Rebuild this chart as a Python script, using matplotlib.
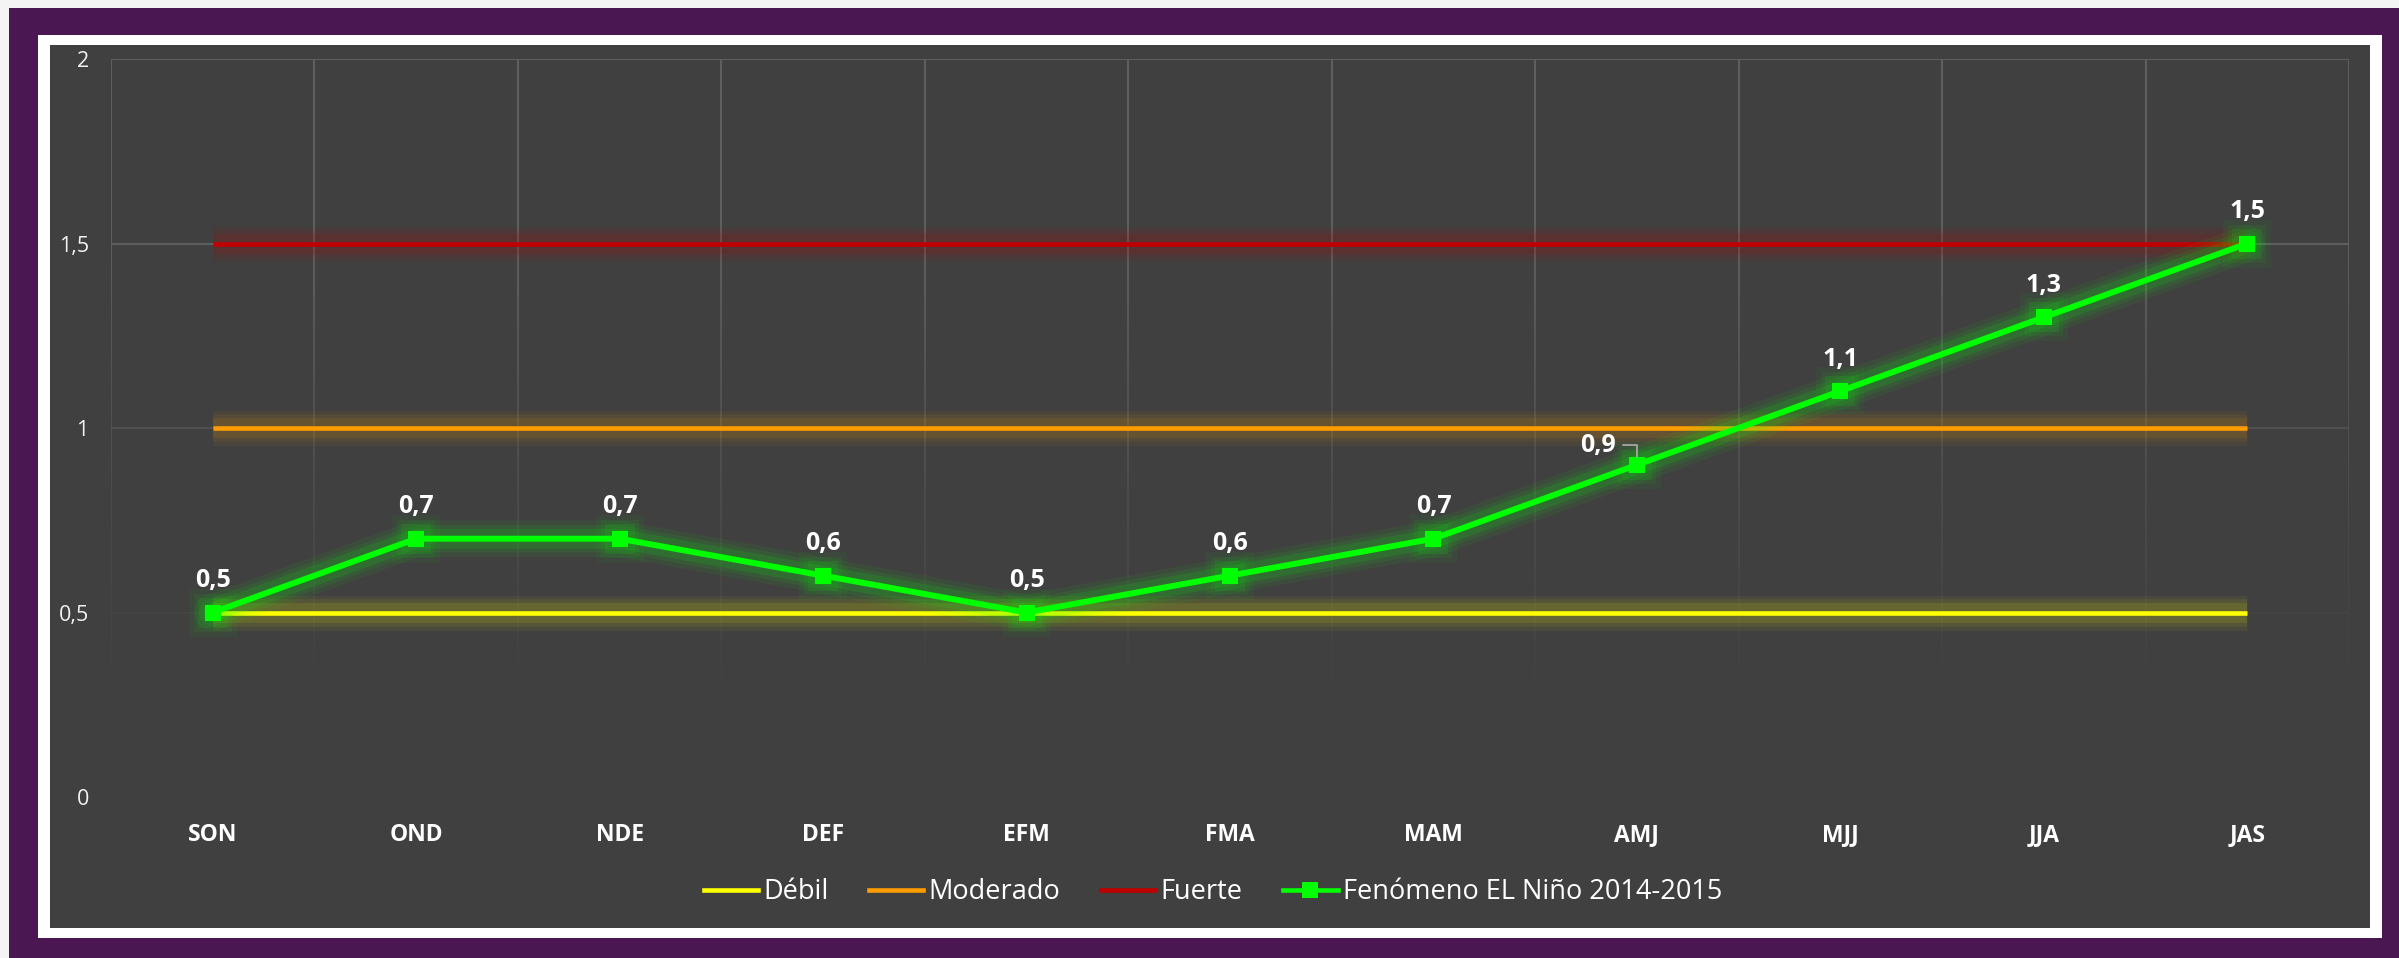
import matplotlib
matplotlib.use("Agg")
import matplotlib.pyplot as plt
from matplotlib.patches import Rectangle
from matplotlib.lines import Line2D
from matplotlib.collections import LineCollection
import numpy as np

categories = ["SON", "OND", "NDE", "DEF", "EFM", "FMA", "MAM", "AMJ", "MJJ", "JJA", "JAS"]
debil = [0.5] * 11
moderado = [1.0] * 11
fuerte = [1.5] * 11
nino = [0.5, 0.7, 0.7, 0.6, 0.5, 0.6, 0.7, 0.9, 1.1, 1.3, 1.5]
nino_labels = ["0,5", "0,7", "0,7", "0,6", "0,5", "0,6", "0,7", "0,9", "1,1", "1,3", "1,5"]
y_ticks = [0, 0.5, 1, 1.5, 2]
y_tick_labels = ["0", "0,5", "1", "1,5", "2"]
series_names = ["Débil", "Moderado", "Fuerte", "Fenómeno EL Niño 2014-2015"]

plt.rcParams['font.family'] = ['Open Sans', 'DejaVu Sans']

W, H = 2399, 958
fig = plt.figure(figsize=(W / 100, H / 100), dpi=100)
fig.patch.set_facecolor("#f4f4f4")

def frect(x0, y0top, x1, y1bot, color):
    fig.patches.append(Rectangle((x0 / W, 1 - y1bot / H), (x1 - x0) / W, (y1bot - y0top) / H,
                                 transform=fig.transFigure, facecolor=color, edgecolor='none', zorder=-10))

frect(9, 8, W, H, "#4a1753")
frect(38, 35, 2382, 938, "#ffffff")
frect(50, 45, 2370, 928, "#404040")

ax_l, ax_r, ax_t, ax_b = 111, 2349, 59, 797
ax = fig.add_axes([ax_l / W, 1 - ax_b / H, (ax_r - ax_l) / W, (ax_b - ax_t) / H])
ax.set_facecolor("none")
for s in ax.spines.values():
    s.set_visible(False)

x = np.arange(len(categories))
ax.set_xlim(-0.5, len(categories) - 0.5)
ax.set_ylim(0, 2)

# fading gridlines
def galpha(y):
    return float(np.clip((y - 0.2) / 1.3, 0, 1)) ** 1.3

segs, cols = [], []
ys = np.linspace(0, 2, 101)
for gx in np.arange(-0.5, len(categories), 1.0):
    for i in range(len(ys) - 1):
        segs.append([(gx, ys[i]), (gx, ys[i + 1])])
        a = galpha((ys[i] + ys[i + 1]) / 2)
        cols.append((0.37, 0.37, 0.37, a))
for gy in y_ticks:
    a = galpha(gy)
    if a > 0:
        segs.append([(-0.5, gy), (len(categories) - 0.5, gy)])
        cols.append((0.37, 0.37, 0.37, a))
ax.add_collection(LineCollection(segs, colors=cols, linewidths=1.5, zorder=1))

def glow_line(yv, color, lw, glow_w, z):
    for k, a in zip([1.0, 0.75, 0.5], [0.05, 0.07, 0.10]):
        ax.plot(x, yv, color=color, lw=lw + glow_w * k, alpha=a, solid_capstyle='butt', zorder=z)
    ax.plot(x, yv, color=color, lw=lw, solid_capstyle='butt', zorder=z + 0.5)

glow_line(debil, "#ffff00", 3.3, 22, 3)
glow_line(moderado, "#ff9c00", 3.3, 22, 3)
glow_line(fuerte, "#c00000", 3.3, 22, 3)

# green series with glow
for k, a in zip([1.0, 0.7, 0.45], [0.06, 0.08, 0.12]):
    ax.plot(x, nino, color="#00ff00", lw=4.3 + 22 * k, alpha=a, solid_capstyle='round', zorder=4)
    ax.plot(x, nino, ls='none', marker='s', ms=12 + 22 * k, color="#00ff00", alpha=a * 0.8, mew=0, zorder=4)
ax.plot(x, nino, color="#00ff00", lw=4.3, marker='s', ms=12, mew=0, zorder=6)

for xi, yi, lab in zip(x, nino, nino_labels):
    if lab == "0,9":
        ax.annotate(lab, (xi, yi), xytext=(-28, 14), textcoords='offset points',
                    ha='center', va='center', fontsize=18, fontweight='bold', color='white', zorder=7,
                    arrowprops=dict(arrowstyle='-', color='#a6a6a6', lw=1.3,
                                    connectionstyle='angle,angleA=0,angleB=90,rad=0',
                                    relpos=(1, 0.5), shrinkA=3, shrinkB=6))
    else:
        ax.annotate(lab, (xi, yi), xytext=(0, 23), textcoords='offset points',
                    ha='center', va='center', fontsize=18, fontweight='bold', color='white', zorder=7)

ax.set_xticks(x)
ax.set_xticklabels(categories, fontsize=16.5, fontweight='bold', color='white')
ax.set_yticks(y_ticks)
ax.set_yticklabels(y_tick_labels, fontsize=15.5, color='#f2f2f2')
ax.tick_params(axis='x', length=0, pad=19)
ax.tick_params(axis='y', length=0, pad=16)

handles = [
    Line2D([], [], color="#ffff00", lw=3.3),
    Line2D([], [], color="#ff9c00", lw=3.3),
    Line2D([], [], color="#c00000", lw=3.3),
    Line2D([], [], color="#00ff00", lw=3.3, marker='s', ms=11, mew=0),
]
leg = fig.legend(handles, series_names, loc='center', bbox_to_anchor=(1213 / W, 1 - 892 / H),
                 ncol=4, frameon=False, fontsize=19.5, handlelength=2.0, handletextpad=0.2,
                 columnspacing=1.5, labelcolor='white')

fig.savefig("out.png", dpi=100, facecolor=fig.get_facecolor())
